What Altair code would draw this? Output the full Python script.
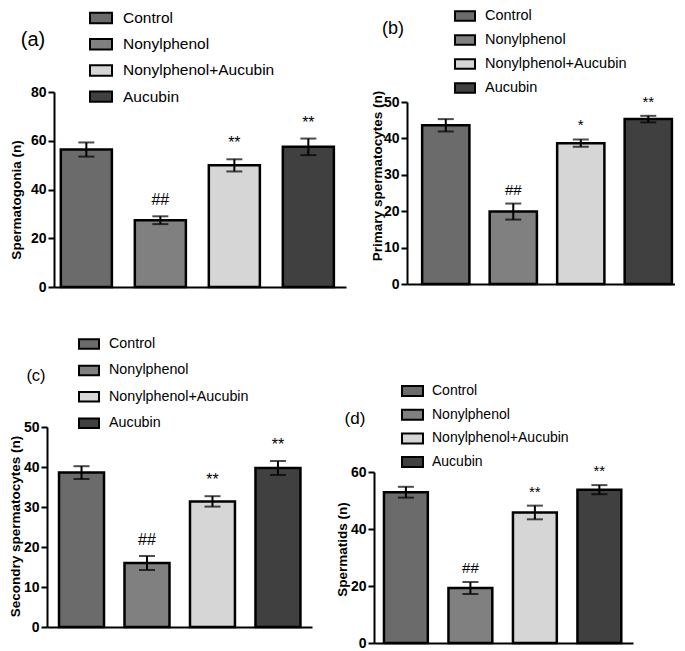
import altair as alt
import pandas as pd

# ---- data ----
groups = ["Control", "Nonylphenol", "Nonylphenol+Aucubin", "Aucubin"]

spermatogonia_mean = [56.4, 27.4, 49.9, 57.5]
spermatogonia_sem = [2.9, 1.6, 2.5, 3.4]
spermatogonia_sig = ["", "##", "**", "**"]

primary_mean = [43.6, 19.9, 38.7, 45.3]
primary_sem = [1.7, 2.2, 1.0, 0.9]
primary_sig = ["", "##", "*", "**"]

secondary_mean = [38.6, 16.0, 31.4, 39.75]
secondary_sem = [1.6, 1.75, 1.3, 1.75]
secondary_sig = ["", "##", "**", "**"]

spermatids_mean = [52.9, 19.3, 45.8, 53.8]
spermatids_sem = [1.9, 2.1, 2.4, 1.6]
spermatids_sig = ["", "##", "**", "**"]

# ---- styling ----
fills = ["#6b6b6b", "#808080", "#d6d6d6", "#404040"]
FONT = "Liberation Sans"
W, H = 332, 302  # nominal cell size of each panel (layout is flush)

# page geometry of each panel (pixels)
geo = {
    "a": dict(origin=(8, 8), ax=52, xend=344, y0=285, ytop=90, pi=0.31, po=0.128, al=0.36,
              leg_x=88, leg_w=22, leg_txt=121, leg_y1=16, leg_font=15.5, leg_gap=22.7,
              lab=(31, 37.5), lab_size=20, title=(14.5, 197.5), sig_dy=-11, sig_size=16),
    "b": dict(origin=(340, 8), ax=405, xend=680, y0=282, ytop=100, pi=0.30, po=0.187, al=0.6,
              leg_x=453, leg_w=20, leg_txt=483, leg_y1=14, leg_font=14.5, leg_gap=20.5,
              lab=(391, 26.5), lab_size=18, title=(375, 173.5), sig_dy=-9, sig_size=15),
    "c": dict(origin=(8, 310), ax=45, xend=310, y0=625, ytop=425, pi=0.313, po=0.18, al=0.51,
              leg_x=77, leg_w=20, leg_txt=107, leg_y1=342, leg_font=14.3, leg_gap=22.7,
              lab=(34, 373.5), lab_size=16.5, title=(13.5, 524), sig_dy=-11, sig_size=16),
    "d": dict(origin=(340, 310), ax=372, xend=631, y0=641, ytop=470, pi=0.32, po=0.168, al=0.46,
              leg_x=400, leg_w=21, leg_txt=430, leg_y1=389, leg_font=14, leg_gap=19.7,
              lab=(353, 416.5), lab_size=17, title=(340, 547), sig_dy=-9, sig_size=15),
}


def panel(key, mean, sem, sig, ytitle, letter, ymax, ystep):
    g = geo[key]
    ox, oy = g["origin"]
    df = pd.DataFrame({
        "group": groups,
        "mean": mean,
        "lo": [m - s for m, s in zip(mean, sem)],
        "hi": [m + s for m, s in zip(mean, sem)],
        "sig": sig,
    })
    xs = alt.Scale(domain=groups, range=[g["ax"] - ox, g["xend"] - ox],
                   paddingInner=g["pi"], paddingOuter=g["po"], align=g["al"])
    ys = alt.Scale(domain=[0, ymax], range=[g["y0"] - oy, g["ytop"] - oy], nice=False)
    xaxis = alt.Axis(labels=False, ticks=False, title=None, domainColor="black",
                     domainWidth=2, grid=False, offset=(g["y0"] - oy) - H)
    yaxis = alt.Axis(title=ytitle, values=list(range(0, ymax + 1, ystep)), grid=False,
                     labelFont=FONT, labelFontWeight="bold", labelFontSize=14, labelColor="black",
                     labelPadding=2, tickSize=6, tickWidth=2, tickColor="black",
                     domainColor="black", domainWidth=2,
                     titleFont=FONT, titleFontWeight="bold", titleFontSize=13.5, titleColor="black",
                     titleAngle=-90, titleAlign="center", titleBaseline="middle",
                     titleX=g["title"][0] - g["ax"], titleY=g["title"][1] - oy,
                     offset=-(g["ax"] - ox))
    X = alt.X("group:N", scale=xs, sort=groups, axis=xaxis)
    base = alt.Chart(df)
    fs = g["leg_font"]  # legend entry size (font dominates the small symbol size)
    sw = g["leg_w"]
    sym_size = (sw / 2.0) ** 2  # sqrt(size)/2 = sw/4, path spans [-2, 2] x [-1, 1]
    legend = alt.Legend(title=None, orient="none",
                        legendX=g["leg_x"] - ox - (fs / 2.0 - sw / 2.0),
                        legendY=g["leg_y1"] - oy - fs / 2.0,
                        symbolType="M-2,-0.95H2V0.95H-2Z", symbolSize=sym_size,
                        symbolStrokeColor="black", symbolStrokeWidth=2,
                        symbolOpacity=1,
                        labelFont=FONT, labelFontSize=fs,
                        labelColor="black",
                        labelOffset=g["leg_txt"] - g["leg_x"] - (fs / 2.0 + sw / 2.0),
                        rowPadding=g["leg_gap"] - fs, padding=0)
    bars = base.mark_bar(stroke="black", strokeWidth=2.5).encode(
        x=X,
        y=alt.Y("mean:Q", scale=ys, axis=yaxis),
        fill=alt.Fill("group:N", scale=alt.Scale(domain=groups, range=fills), legend=legend),
    )
    err = base.mark_errorbar(ticks=True, size=16, thickness=2, color="black").encode(
        x=X,
        y=alt.Y("lo:Q", scale=ys, axis=yaxis),
        y2="hi:Q",
    )
    sig_text = base.mark_text(font=FONT, fontSize=g["sig_size"], baseline="alphabetic",
                              dy=g["sig_dy"], color="black").encode(
        x=X,
        y=alt.Y("hi:Q", scale=ys, axis=yaxis),
        text="sig:N",
    )
    lab = alt.Chart(pd.DataFrame({"t": [letter]})).mark_text(
        font=FONT, fontSize=g["lab_size"], baseline="middle", align="center", color="black"
    ).encode(text="t:N", x=alt.value(g["lab"][0] - ox), y=alt.value(g["lab"][1] - oy))
    return alt.layer(bars, err, sig_text, lab).properties(width=W, height=H)


pa = panel("a", spermatogonia_mean, spermatogonia_sem, spermatogonia_sig,
           "Spermatogonia (n)", "(a)", 80, 20)
pb = panel("b", primary_mean, primary_sem, primary_sig,
           "Primary spermatocytes (n)", "(b)", 50, 10)
pc = panel("c", secondary_mean, secondary_sem, secondary_sig,
           "Secondry spermatocytes (n)", "(c)", 50, 10)
pd_ = panel("d", spermatids_mean, spermatids_sem, spermatids_sig,
            "Spermatids (n)", "(d)", 60, 20)

chart = alt.concat(pa, pb, pc, pd_, columns=2, spacing=0, bounds="flush").resolve_scale(
    x="independent", y="independent", fill="independent"
).properties(padding=0, background="white").configure_view(stroke="transparent")

chart.save("out.html", embed_options={"renderer": "svg", "actions": False})
